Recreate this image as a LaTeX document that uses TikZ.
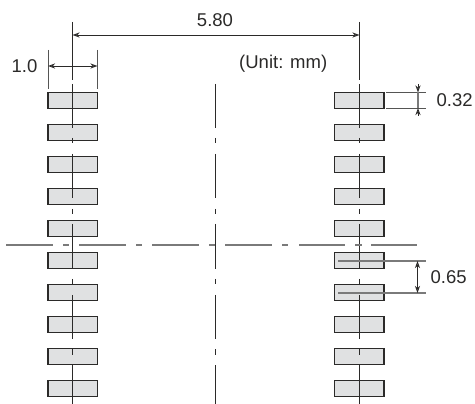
\documentclass[tikz,border=0pt]{standalone}
\usepackage{fontspec}
\setmainfont{Liberation Sans}
\usetikzlibrary{arrows.meta}
\definecolor{padfill}{HTML}{E0E1E2}
\definecolor{inkline}{HTML}{2B2A29}
\definecolor{greyline}{HTML}{7A7A7A}
\tikzset{
  x=1pt,y=-1pt,
  pad/.style={draw=inkline,line width=1.3pt,fill=padfill,minimum width=49.5pt,minimum height=16pt,inner sep=0pt,outer sep=0pt},
  label/.style={inner sep=0pt,text=inkline,font=\fontsize{18.5}{20}\selectfont},
  center line/.style={draw=inkline,line width=1pt},
  axis line/.style={draw=greyline,line width=1.5pt},
  ext/.style={draw=inkline!80,line width=.9pt},
  dim/.style={draw=inkline,line width=.9pt,{Stealth[open,fill=white,length=7pt,width=5pt,inset=2pt]}-{Stealth[open,fill=white,length=7pt,width=5pt,inset=2pt]}},
  tip/.style={draw=inkline,line width=.9pt,-{Stealth[open,fill=white,length=7pt,width=5pt,inset=2pt]}},
}
\begin{document}
\begin{tikzpicture}
\useasboundingbox (0,0) rectangle (475,404);
\fill[white] (0,0) rectangle (475,404);
% pads
\foreach \i/\y in {1/100.5,2/132.5,3/164.5,4/196.5,5/228.5,6/260.5,7/292.5,8/324.5,9/356.5,10/388.5}{
  \node[pad] (L\i) at (72.7,\y) {};
  \node[pad] (R\i) at (359.3,\y) {};
}
% vertical centre lines
\foreach \x in {72.5,215.5,359.5}{
  \foreach \a/\b in {84/128,138/143.5,154/198,209/214,224/269,279/284,295/339,349/355,365/404}{
    \draw[center line] (\x,\a) -- (\x,\b);
  }
}
\draw[center line] (72.5,22) -- (72.5,80);
\draw[center line] (359.5,22) -- (359.5,80);
% horizontal centre line
\foreach \a/\b in {6/53,63/69,79/126,136/142,152/199,209/215,225/272,282/288,299/345,355/362,371/417}{
  \draw[axis line] (\a,245) -- (\b,245);
}
% dimensions
\coordinate (topL) at (72.5,35);
\coordinate (topR) at (359.5,35);
\draw[dim] (topL) -- (topR);
\node[label] (d580) at (215,20) {5.80};
\node[label,anchor=west] (unit) at (239,64) {(Unit: mm)};

\draw[ext] (48,50) -- (48,89);
\draw[ext] (97.5,50) -- (97.5,89);
\coordinate (a1) at (48,66);
\coordinate (a2) at (97.5,66);
\draw[dim] (a1) -- (a2);
\node[label,anchor=east] (d10) at (37.5,66) {1.0};

\coordinate (e1) at (386,92.5);
\coordinate (e2) at (426,92.5);
\coordinate (e3) at (386,108);
\coordinate (e4) at (426,108);
\draw[ext] (e1) -- (e2);
\draw[ext] (e3) -- (e4);
\coordinate (p1) at (418,84);
\coordinate (p2) at (418,92.5);
\coordinate (p3) at (418,116);
\coordinate (p4) at (418,108);
\draw[tip] (p1) -- (p2);
\draw[tip] (p3) -- (p4);
\draw[draw=greyline,line width=1.2pt] (p2) -- (p4);
\node[label,anchor=west] (d032) at (436.5,100) {0.32};

\coordinate (f1) at (338,261);
\coordinate (f2) at (426,261);
\coordinate (f3) at (338,293);
\coordinate (f4) at (426,293);
\draw[axis line,line width=1.2pt] (f1) -- (f2);
\draw[axis line,line width=1.2pt] (f3) -- (f4);
\coordinate (q1) at (417.5,261);
\coordinate (q2) at (417.5,293);
\draw[dim] (q1) -- (q2);
\node[label,anchor=west] (d065) at (430.5,277) {0.65};
\end{tikzpicture}
\end{document}
